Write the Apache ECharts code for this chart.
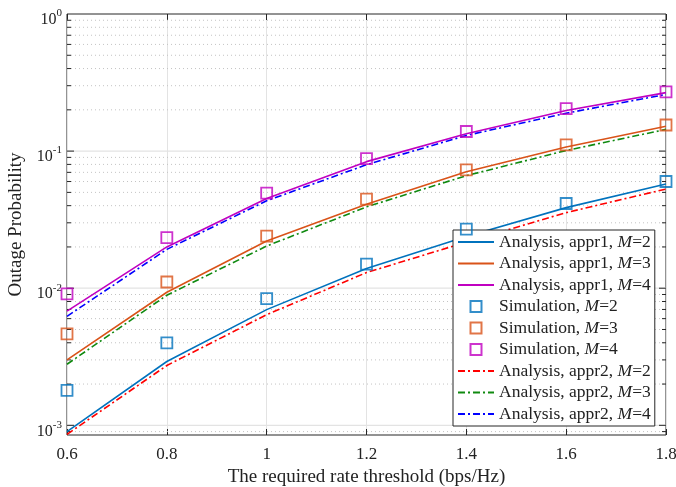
<!DOCTYPE html>
<html>
<head>
<meta charset="utf-8">
<script src="https://cdn.jsdelivr.net/npm/echarts@6/dist/echarts.min.js"></script>
<style>
  html, body { margin: 0; padding: 0; background: #fff; }
  #chart { width: 676px; height: 487px; }
</style>
</head>
<body>
<div id="chart"></div>
<script>
const xVals = [0.6, 0.8, 1.0, 1.2, 1.4, 1.6, 1.8];

// simulation points (squares)
const simM2 = [1.8e-3, 4.0e-3, 8.4e-3, 1.5e-2, 2.7e-2, 4.15e-2, 6.0e-2];
const simM3 = [4.65e-3, 1.11e-2, 2.4e-2, 4.46e-2, 7.3e-2, 0.111, 0.155];
const simM4 = [9.1e-3, 2.34e-2, 4.94e-2, 8.8e-2, 0.139, 0.204, 0.27];

// analysis, approximation 1 (solid)
const appr1M2 = [9.0e-4, 2.92e-3, 6.98e-3, 1.39e-2, 2.38e-2, 3.87e-2, 5.75e-2];
const appr1M3 = [3.0e-3, 9.35e-3, 2.21e-2, 4.1e-2, 7.08e-2, 0.107, 0.152];
const appr1M4 = [6.8e-3, 2.0e-2, 4.51e-2, 8.38e-2, 0.134, 0.198, 0.267];

// analysis, approximation 2 (dash-dot)
const appr2M2 = [8.6e-4, 2.73e-3, 6.41e-3, 1.3e-2, 2.17e-2, 3.56e-2, 5.29e-2];
const appr2M3 = [2.79e-3, 8.89e-3, 2.03e-2, 3.92e-2, 6.62e-2, 0.101, 0.144];
const appr2M4 = [6.24e-3, 1.92e-2, 4.34e-2, 7.96e-2, 0.130, 0.189, 0.259];

const xMin = 0.6, xMax = 1.8, yMin = 0.00085, yMax = 1;

// y decades: labels, major grid, minor grid
const yLabelVals = [1e-3, 1e-2, 1e-1, 1];
const majorY = [1e-3, 1e-2, 1e-1];
const minorY = [9e-4];
[1e-3, 1e-2, 1e-1].forEach(d => {
    for (let k = 2; k <= 9; k++) minorY.push(k * d);
});

const fontFam = '"Liberation Serif", "DejaVu Serif", serif';
const axisColor = '#262626';
const textColor = '#222';

function pairs(ys) {
    return xVals.map((x, i) => [x, ys[i]]);
}

function gridRender(lineStyle, tickLen) {
    return function (params, api) {
        const v = api.value(1);
        const a = api.coord([xMin, v]);
        const b = api.coord([xMax, v]);
        return {
            type: 'group',
            children: [
                { type: 'line', shape: { x1: a[0], y1: a[1], x2: b[0], y2: b[1] }, style: lineStyle },
                { type: 'line', shape: { x1: a[0], y1: a[1], x2: a[0] + tickLen, y2: a[1] }, style: { stroke: axisColor, lineWidth: 1 } },
                { type: 'line', shape: { x1: b[0] - tickLen, y1: b[1], x2: b[0], y2: b[1] }, style: { stroke: axisColor, lineWidth: 1 } }
            ]
        };
    };
}

function yLabelRender(params, api) {
    const v = api.value(1);
    const p = api.coord([xMin, v]);
    const e = Math.round(Math.log10(v));
    return {
        type: 'text',
        x: p[0] - 5,
        y: p[1] + 4,
        style: {
            text: '{b|10}{e|' + e + '}',
            align: 'right',
            verticalAlign: 'middle',
            rich: {
                b: { fontFamily: fontFam, fontSize: 16, fill: textColor, verticalAlign: 'bottom', lineHeight: 20 },
                e: { fontFamily: fontFam, fontSize: 11, fill: textColor, verticalAlign: 'top', lineHeight: 20 }
            }
        }
    };
}

function lineSeries(name, ys, color, dashed) {
    return {
        name: name,
        type: 'line',
        data: pairs(ys),
        symbol: 'none',
        z: 3,
        lineStyle: { color: color, width: 1.6, type: dashed ? [7, 3, 2, 3] : 'solid' },
        itemStyle: { color: color }
    };
}

function simSeries(name, ys, color) {
    return {
        name: name,
        type: 'scatter',
        data: pairs(ys),
        symbol: 'rect',
        symbolSize: 11,
        z: 4,
        itemStyle: { color: 'transparent', borderColor: color, borderWidth: 1.8 }
    };
}

const names = [
    'Analysis, appr1, {i|M}=2', 'Analysis, appr1, {i|M}=3', 'Analysis, appr1, {i|M}=4',
    'Simulation, {i|M}=2', 'Simulation, {i|M}=3', 'Simulation, {i|M}=4',
    'Analysis, appr2, {i|M}=2', 'Analysis, appr2, {i|M}=3', 'Analysis, appr2, {i|M}=4'
];

// square marker centred in a wide legend slot
const squareIcon = 'path://M0,0M36,12M12.5,0.5h11v11h-11z';

const legendData = names.map(n => n.startsWith('Simulation')
    ? { name: n, icon: squareIcon }
    : { name: n, itemStyle: { opacity: 0 } });

let myChart = echarts.init(document.getElementById('chart'));

let option = {
    backgroundColor: '#fff',
    animation: false,
    textStyle: { fontFamily: fontFam },
    grid: {
        left: 67, right: 10, top: 14, bottom: 52,
        outerBoundsMode: 'none',
        containLabel: false,
        show: true, borderColor: axisColor, borderWidth: 1, backgroundColor: 'transparent'
    },
    legend: {
        data: legendData,
        orient: 'vertical',
        left: 453,
        top: 230,
        padding: [3, 4, 3, 4],
        itemWidth: 36,
        itemHeight: 12,
        itemGap: 3.5,
        backgroundColor: '#fff',
        borderColor: axisColor,
        borderWidth: 1,
        selectedMode: false,
        textStyle: {
            fontFamily: fontFam,
            fontSize: 17.5,
            lineHeight: 18,
            color: textColor,
            rich: {
                i: { fontFamily: fontFam, fontSize: 17.5, lineHeight: 18, fontStyle: 'italic', color: textColor }
            }
        }
    },
    xAxis: [
        {
            type: 'value',
            min: xMin, max: xMax, interval: 0.2,
            position: 'bottom',
            name: 'The required rate threshold (bps/Hz)',
            nameLocation: 'middle',
            nameGap: 32,
            nameTextStyle: { fontFamily: fontFam, fontSize: 19, color: textColor },
            axisLine: { show: false },
            axisTick: { inside: true, length: 6, lineStyle: { color: axisColor } },
            axisLabel: {
                fontFamily: fontFam, fontSize: 17, color: textColor, margin: 11,
                formatter: v => String(Math.round(v * 10) / 10)
            },
            splitLine: { show: true, lineStyle: { color: '#e3e3e3', width: 1 } }
        },
        {
            type: 'value',
            min: xMin, max: xMax, interval: 0.2,
            position: 'top',
            axisLine: { show: false },
            axisTick: { inside: true, length: 6, lineStyle: { color: axisColor } },
            axisLabel: { show: false },
            splitLine: { show: false }
        }
    ],
    yAxis: {
        type: 'log',
        logBase: 10,
        min: yMin, max: yMax,
        name: 'Outage Probability',
        nameLocation: 'middle',
        nameGap: 41,
        nameTextStyle: { fontFamily: fontFam, fontSize: 19, color: textColor },
        axisLine: { show: false },
        axisTick: { show: false },
        splitLine: { show: false },
        minorTick: { show: false },
        axisLabel: { show: false }
    },
    series: [
        {
            type: 'custom', silent: true, z: 1, clip: false,
            data: minorY.map(v => [xMin, v]),
            encode: { x: 0, y: 1 },
            renderItem: gridRender({ stroke: '#c4c4c4', lineWidth: 1, lineDash: [1, 3] }, 4)
        },
        {
            type: 'custom', silent: true, z: 1, clip: false,
            data: majorY.map(v => [xMin, v]),
            encode: { x: 0, y: 1 },
            renderItem: gridRender({ stroke: '#e3e3e3', lineWidth: 1.2 }, 7)
        },
        {
            type: 'custom', silent: true, z: 1, clip: false,
            data: yLabelVals.map(v => [xMin, v]),
            encode: { x: 0, y: 1 },
            renderItem: yLabelRender
        },
        lineSeries(names[0], appr1M2, '#0072BD', false),
        lineSeries(names[1], appr1M3, '#D95319', false),
        lineSeries(names[2], appr1M4, '#C000C0', false),
        simSeries(names[3], simM2, '#0072BD'),
        simSeries(names[4], simM3, '#D95319'),
        simSeries(names[5], simM4, '#C000C0'),
        lineSeries(names[6], appr2M2, '#FF0000', true),
        lineSeries(names[7], appr2M3, '#108A10', true),
        lineSeries(names[8], appr2M4, '#0000FF', true)
    ]
};

myChart.setOption(option);
</script>
</body>
</html>
